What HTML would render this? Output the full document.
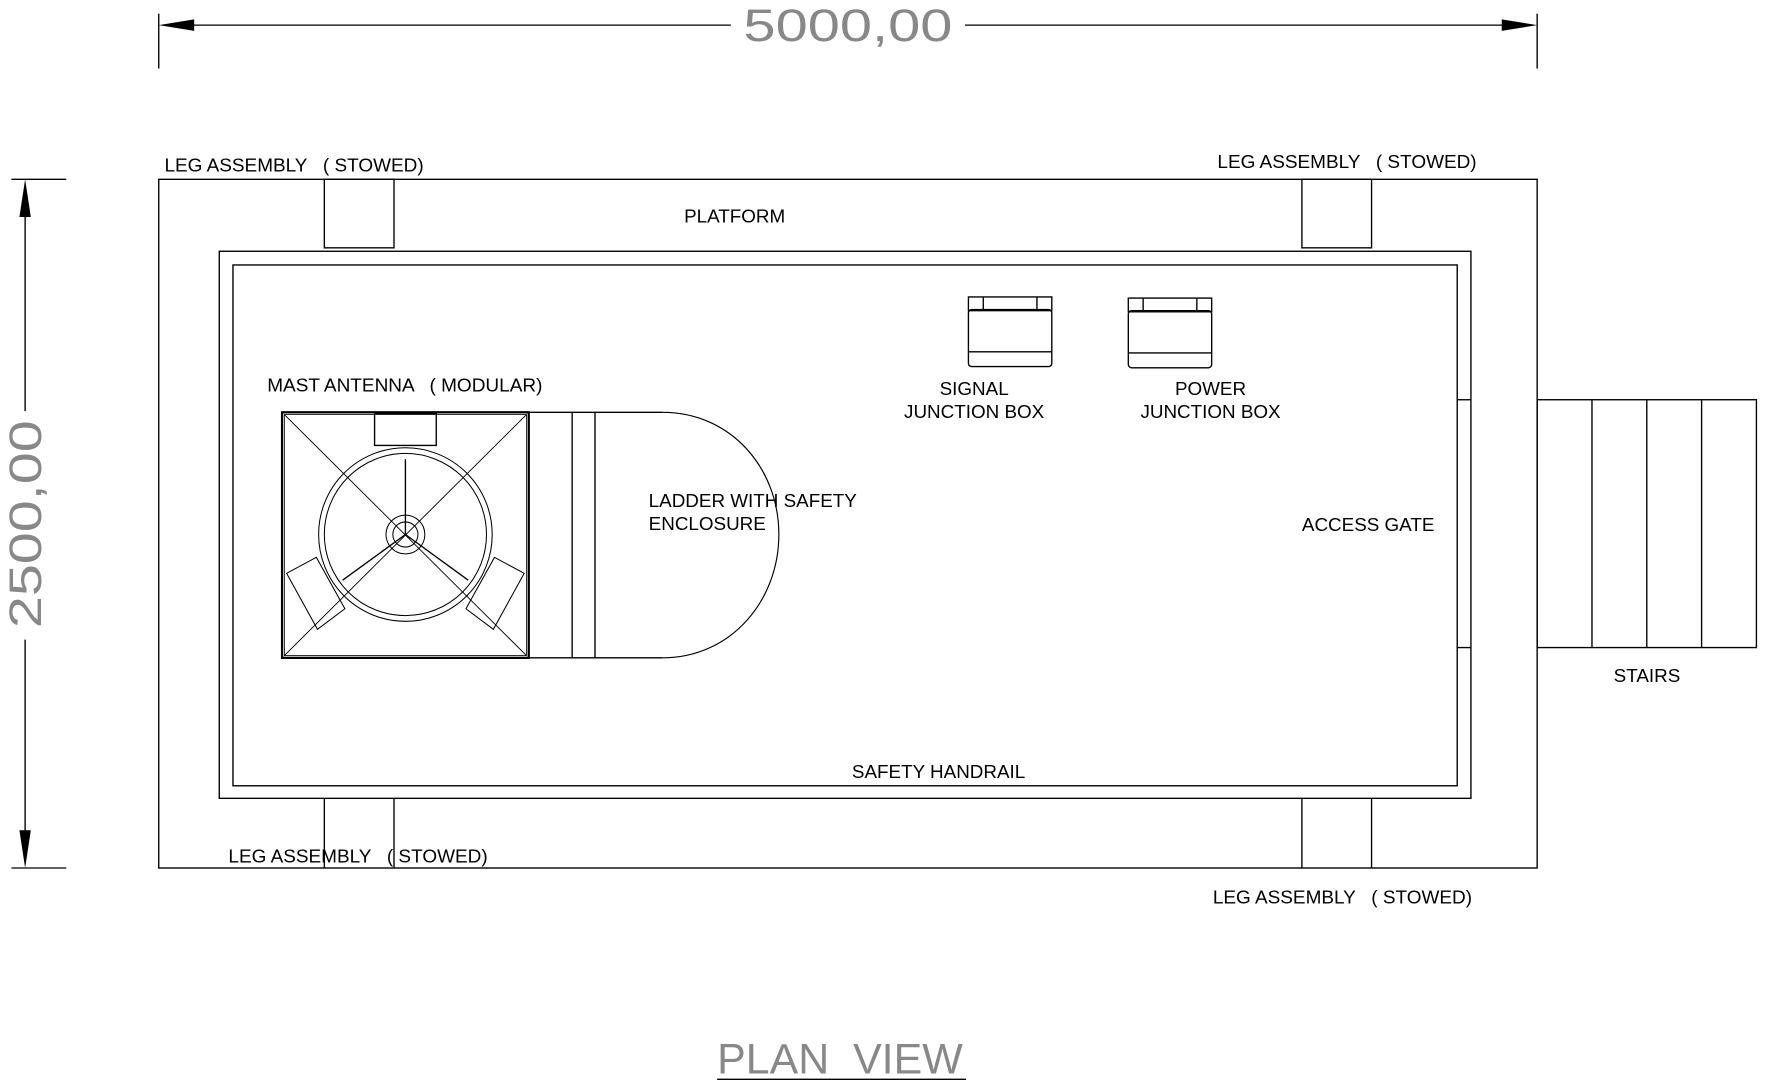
<!DOCTYPE html>
<html><head><meta charset="utf-8"><style>html,body{margin:0;padding:0;background:#fff}svg{display:block}text{white-space:pre}</style></head>
<body>
<svg width="1790" height="1085" viewBox="0 0 1567.4 950" preserveAspectRatio="none" xmlns="http://www.w3.org/2000/svg">
<g fill="none" stroke="#000" stroke-width="1.2">
<line x1="139" y1="12" x2="139" y2="60"/>
<line x1="1346" y1="12" x2="1346" y2="60"/>
<line x1="150" y1="22" x2="640" y2="22"/>
<line x1="845" y1="22" x2="1335" y2="22"/>
<line x1="10" y1="157" x2="58" y2="157"/>
<line x1="10" y1="760" x2="58" y2="760"/>
<line x1="22" y1="170" x2="22" y2="360"/>
<line x1="22" y1="560" x2="22" y2="748"/>
<rect x="139" y="157" width="1207" height="603"/>
<rect x="192" y="220" width="1096" height="479"/>
<rect x="204" y="232" width="1072" height="456"/>
<rect x="284" y="157" width="61" height="60"/>
<rect x="1140" y="157" width="61" height="60"/>
<line x1="284" y1="699" x2="284" y2="760"/><line x1="345" y1="699" x2="345" y2="760"/>
<line x1="1140" y1="699" x2="1140" y2="760"/><line x1="1201" y1="699" x2="1201" y2="760"/>
<line x1="1276" y1="350" x2="1288" y2="350"/>
<line x1="1276" y1="567" x2="1288" y2="567"/>
<rect x="1346" y="350" width="192" height="217"/>
<line x1="1394" y1="350" x2="1394" y2="567"/>
<line x1="1442" y1="350" x2="1442" y2="567"/>
<line x1="1490" y1="350" x2="1490" y2="567"/>
<g>
<rect x="848" y="260" width="73" height="12"/>
<line x1="861" y1="260" x2="861" y2="272"/><line x1="908" y1="260" x2="908" y2="272"/>
<rect x="848" y="271" width="73" height="50" rx="3"/>
<line x1="848" y1="308" x2="921" y2="308"/>
</g>
<g>
<rect x="988" y="261" width="73" height="12"/>
<line x1="1001" y1="261" x2="1001" y2="273"/><line x1="1048" y1="261" x2="1048" y2="273"/>
<rect x="988" y="272" width="73" height="50" rx="3"/>
<line x1="988" y1="309" x2="1061" y2="309"/>
</g>
<rect x="247" y="361" width="216" height="215" stroke-width="2"/>
<rect x="249" y="363" width="212" height="211" stroke-width="0.7"/>
<rect x="328" y="362" width="54" height="28"/>
<line x1="249" y1="363" x2="461" y2="574" stroke-width="0.8"/>
<line x1="461" y1="363" x2="249" y2="574" stroke-width="0.8"/>
<circle cx="355" cy="468" r="76" stroke-width="0.9"/>
<circle cx="355" cy="468" r="71" stroke-width="0.9"/>
<circle cx="355" cy="468" r="17" stroke-width="0.9"/>
<circle cx="355" cy="468" r="11" stroke-width="0.9"/>
<line x1="355" y1="402" x2="355" y2="468"/>
<line x1="355" y1="468" x2="300" y2="508"/>
<line x1="355" y1="468" x2="410" y2="508"/>
<polygon points="251,502 277,488 302,533 278,551" stroke-width="0.9"/>
<polygon points="459,502 433,488 408,533 432,551" stroke-width="0.9"/>
<line x1="463" y1="361" x2="580" y2="361"/>
<line x1="463" y1="576" x2="580" y2="576"/>
<line x1="501" y1="361" x2="501" y2="576"/>
<line x1="521" y1="361" x2="521" y2="576"/>
<path d="M580 361 C640 361 682 410 682 468 C682 526 640 576 580 576" stroke-width="1"/>
<line x1="628" y1="945" x2="846" y2="945"/>
</g>
<g fill="#000">
<polygon points="139,22 170,17 170,27"/>
<polygon points="1346,22 1315,17 1315,27"/>
<polygon points="22,157 17,190 27,190"/>
<polygon points="22,760 17,727 27,727"/>
</g>
<g font-family="Liberation Sans, sans-serif" font-size="16.5" fill="#000">
<text x="144" y="150" textLength="227" lengthAdjust="spacingAndGlyphs">LEG ASSEMBLY   ( STOWED)</text>
<text x="1066" y="147" textLength="227" lengthAdjust="spacingAndGlyphs">LEG ASSEMBLY   ( STOWED)</text>
<text x="200" y="755" textLength="227" lengthAdjust="spacingAndGlyphs">LEG ASSEMBLY   ( STOWED)</text>
<text x="1062" y="791" textLength="227" lengthAdjust="spacingAndGlyphs">LEG ASSEMBLY   ( STOWED)</text>
<text x="599" y="195">PLATFORM</text>
<text x="234" y="343" textLength="241" lengthAdjust="spacingAndGlyphs">MAST ANTENNA   ( MODULAR)</text>
<text x="853" y="346" text-anchor="middle">SIGNAL</text>
<text x="853" y="366" text-anchor="middle">JUNCTION BOX</text>
<text x="1060" y="346" text-anchor="middle">POWER</text>
<text x="1060" y="366" text-anchor="middle">JUNCTION BOX</text>
<text x="568" y="444">LADDER WITH SAFETY</text>
<text x="568" y="464">ENCLOSURE</text>
<text x="1140" y="465">ACCESS GATE</text>
<text x="1413" y="597">STAIRS</text>
<text x="746" y="681">SAFETY HANDRAIL</text>
</g>
<g font-family="Liberation Sans, sans-serif" fill="#888">
<text x="651" y="36" font-size="40" textLength="183" lengthAdjust="spacingAndGlyphs">5000,00</text>
<text transform="translate(36,550) rotate(-90)" font-size="40" textLength="182" lengthAdjust="spacingAndGlyphs">2500,00</text>
<text x="628" y="940" font-size="37" textLength="215" lengthAdjust="spacingAndGlyphs">PLAN  VIEW</text>
</g>
</svg>
</body></html>
